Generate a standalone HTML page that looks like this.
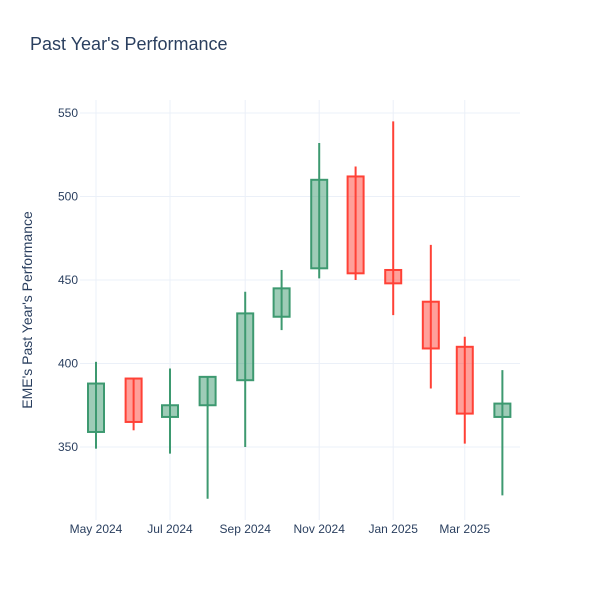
<!DOCTYPE html>
<html><head><meta charset="utf-8"><style>
body{margin:0;background:#fff;font-family:"Liberation Sans",sans-serif}
</style></head><body>
<svg id="chart" width="600" height="600" xmlns="http://www.w3.org/2000/svg">
<rect width="600" height="600" fill="#fff"/>
<text x="30" y="50" font-size="18" fill="#2a3f5f">Past Year's Performance</text>
<g id="grid"></g>
<g id="candles"></g>
<g id="axes"></g>
<text transform="translate(32,310) rotate(-90)" text-anchor="middle" font-size="14" fill="#2a3f5f">EME's Past Year's Performance</text>
</svg>
<script>
const dates=["2024-05-01","2024-06-01","2024-07-01","2024-08-01","2024-09-01","2024-10-01","2024-11-01","2024-12-01","2025-01-01","2025-02-01","2025-03-01","2025-04-01"];
const opens=[359,391,368,375,390,428,457,512,456,437,410,368];
const highs=[401,391,397,392,443,456,532,518,545,471,416,396];
const lows=[349,360,346,319,350,420,451,450,429,385,352,321];
const closes=[388,365,375,392,430,445,510,454,448,409,370,376];
const yTicks=[350,400,450,500,550];
const xTickDates=["2024-05-01","2024-07-01","2024-09-01","2024-11-01","2025-01-01","2025-03-01"];
const xTickLabels=["May 2024","Jul 2024","Sep 2024","Nov 2024","Jan 2025","Mar 2025"];
const NS="http://www.w3.org/2000/svg";
const t0=Date.parse("2024-05-01");
function x(d){return 96+(Date.parse(d)-t0)/86400000*1.2131;}
function y(v){return 447-(v-350)*1.67;}
function mk(tag,attrs,parent){const e=document.createElementNS(NS,tag);for(const k in attrs)e.setAttribute(k,attrs[k]);document.getElementById(parent).appendChild(e);return e;}
yTicks.forEach(v=>{
  const l=mk('line',{x1:80,x2:520,y1:y(v),y2:y(v),stroke:'#ebf0f8','stroke-width':1},'grid');
  
  
  const t=mk('text',{x:78,y:y(v)+4,'text-anchor':'end','font-size':12,fill:'#2a3f5f'},'axes');
  t.textContent=v;
  
  
});
xTickDates.forEach((d,i)=>{
  const l=mk('line',{x1:x(d),x2:x(d),y1:100,y2:520,stroke:'#ebf0f8','stroke-width':1},'grid');
  
  
  const t=mk('text',{x:x(d),y:533,'text-anchor':'middle','font-size':12,fill:'#2a3f5f'},'axes');
  t.textContent=xTickLabels[i];
  
  
});
dates.forEach((d,i)=>{
  const up=closes[i]>=opens[i];
  const col=up?'#3D9970':'#FF4136';
  const fill=up?'rgba(61,153,112,0.5)':'rgba(255,65,54,0.5)';
  const cx=x(d);
  const w=mk('line',{x1:cx,x2:cx,y1:y(highs[i]),y2:y(lows[i]),stroke:col,'stroke-width':2},'candles');
  
  
  const top=y(Math.max(opens[i],closes[i])),bot=y(Math.min(opens[i],closes[i]));
  const r=mk('rect',{x:cx-8,y:top,width:16,height:Math.max(bot-top,1),fill:fill,stroke:col,'stroke-width':2},'candles');
  
  
});
</script>
</body></html>
